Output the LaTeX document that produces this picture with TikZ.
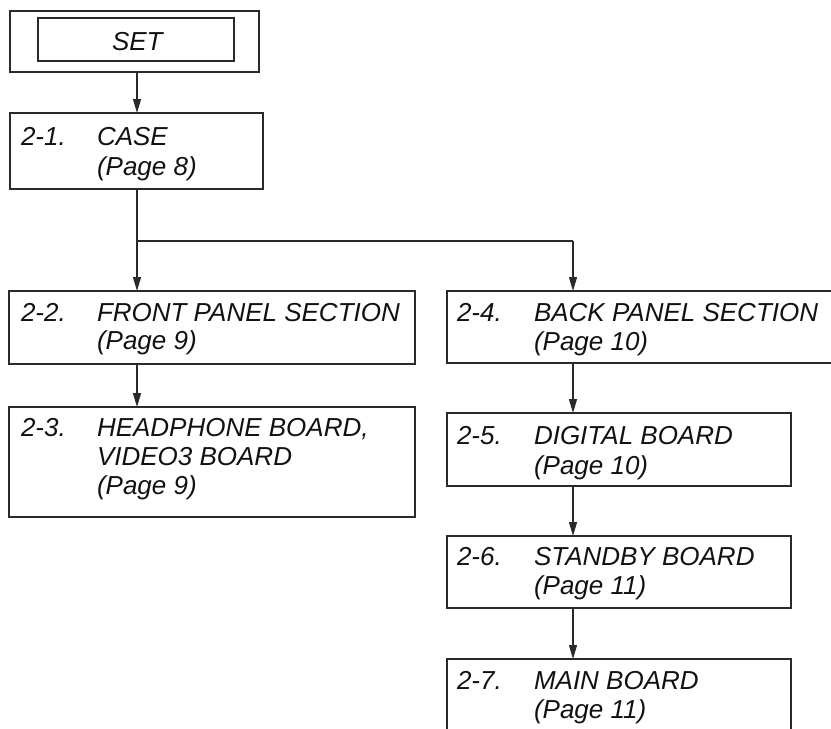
\documentclass[tikz,border=0pt]{standalone}
\usepackage{fontspec}
\setmainfont{Liberation Sans}
\usetikzlibrary{arrows.meta}
\definecolor{ln}{HTML}{2A2A2A}
\definecolor{tx}{HTML}{111111}
\tikzset{
  box/.style={draw=ln, line width=1.3pt, anchor=north west, inner sep=0pt, outer sep=0pt, rectangle},
  lbl/.style={anchor=base west, inner sep=0pt, outer sep=0pt, text=tx, font=\fontsize{26}{30}\selectfont\itshape},
  conn/.style={draw=ln, line width=1.3pt},
  arr/.style={conn, -{Triangle[length=14pt,width=8pt]}}
}
\begin{document}
\begin{tikzpicture}[x=1pt,y=-1pt]
\useasboundingbox (0,0) rectangle (831,729);
\clip (0,0) rectangle (831,729);
% SET
\node[box, minimum width=249pt, minimum height=61pt] (setout) at (10,11) {};
\node[box, minimum width=196pt, minimum height=43pt] (setin) at (38,18) {};
\node[lbl] (settx) at (112,50) {SET};
% boxes
\node[box, minimum width=253pt, minimum height=76pt] (b21) at (10,113) {};
\node[box, minimum width=406pt, minimum height=73pt] (b22) at (9,291) {};
\node[box, minimum width=406pt, minimum height=110pt] (b23) at (9,407) {};
\node[box, minimum width=420pt, minimum height=72pt] (b24) at (447,291) {};
\node[box, minimum width=344pt, minimum height=73pt] (b25) at (447,413) {};
\node[box, minimum width=344pt, minimum height=72pt] (b26) at (447,536) {};
\node[box, minimum width=344pt, minimum height=110pt] (b27) at (447,659) {};
% texts
\node[lbl] (t21a) at (21,145) {2-1.};
\node[lbl] (t21b) at (97,145) {CASE};
\node[lbl] (t21c) at (97,175) {(Page 8)};
\node[lbl] (t22a) at (21,321) {2-2.};
\node[lbl] (t22b) at (97,321) {FRONT PANEL SECTION};
\node[lbl] (t22c) at (97,349) {(Page 9)};
\node[lbl] (t23a) at (21,436) {2-3.};
\node[lbl] (t23b) at (97,436) {HEADPHONE BOARD,};
\node[lbl] (t23c) at (97,465) {VIDEO3 BOARD};
\node[lbl] (t23d) at (97,494) {(Page 9)};
\node[lbl] (t24a) at (457,321) {2-4.};
\node[lbl] (t24b) at (534,321) {BACK PANEL SECTION};
\node[lbl] (t24c) at (534,350) {(Page 10)};
\node[lbl] (t25a) at (457,444) {2-5.};
\node[lbl] (t25b) at (534,444) {DIGITAL BOARD};
\node[lbl] (t25c) at (534,474) {(Page 10)};
\node[lbl] (t26a) at (457,565) {2-6.};
\node[lbl] (t26b) at (534,565) {STANDBY BOARD};
\node[lbl] (t26c) at (534,594) {(Page 11)};
\node[lbl] (t27a) at (457,689) {2-7.};
\node[lbl] (t27b) at (534,689) {MAIN BOARD};
\node[lbl] (t27c) at (534,718) {(Page 11)};
% connectors
\coordinate (jl) at (137,241);
\coordinate (jr) at (573,241);
\draw[arr] (setout.south -| jl) -- (b21.north -| jl);
\draw[conn] (b21.south -| jl) -- (jl);
\draw[conn] (jl) -- (jr);
\draw[arr] (jl) -- (b22.north -| jl);
\draw[arr] (jr) -- (b24.north -| jr);
\draw[arr] (b22.south -| jl) -- (b23.north -| jl);
\draw[arr] (b24.south -| jr) -- (b25.north -| jr);
\draw[arr] (b25.south -| jr) -- (b26.north -| jr);
\draw[arr] (b26.south -| jr) -- (b27.north -| jr);
\end{tikzpicture}
\end{document}
